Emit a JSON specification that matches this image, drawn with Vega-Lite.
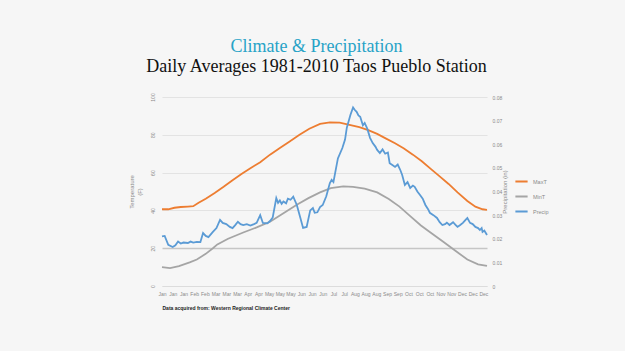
{
  "$schema": "https://vega.github.io/schema/vega-lite/v6.json",
  "width": 325,
  "height": 189,
  "autosize": {"type": "none"},
  "padding": {"left": 162, "top": 97, "right": 138, "bottom": 65},
  "background": "#f6f6f6",
  "title": {
    "text": "Climate & Precipitation",
    "subtitle": "Daily Averages 1981-2010 Taos Pueblo Station",
    "font": "Liberation Serif",
    "fontSize": 18,
    "fontWeight": "normal",
    "color": "#27a3c7",
    "subtitleFont": "Liberation Serif",
    "subtitleFontSize": 18,
    "subtitleColor": "#111111",
    "subtitlePadding": 2,
    "anchor": "middle",
    "offset": 17,
    "dx": -8
  },
  "config": {
    "view": {"stroke": null},
    "axis": {"labelFont": "Liberation Sans", "titleFont": "Liberation Sans", "labelColor": "#8a8a8a", "titleColor": "#8a8a8a", "titleFontWeight": "normal"},
    "legend": {"labelFont": "Liberation Sans"}
  },
  "datasets": {
    "temps": [
      {"day": 1, "series": "MaxT", "value": 40.6},
      {"day": 8, "series": "MaxT", "value": 40.6},
      {"day": 15, "series": "MaxT", "value": 41.4},
      {"day": 22, "series": "MaxT", "value": 41.8},
      {"day": 30, "series": "MaxT", "value": 42.0},
      {"day": 36, "series": "MaxT", "value": 42.2},
      {"day": 42, "series": "MaxT", "value": 44.0},
      {"day": 50, "series": "MaxT", "value": 46.2},
      {"day": 60, "series": "MaxT", "value": 49.2},
      {"day": 70, "series": "MaxT", "value": 52.5},
      {"day": 80, "series": "MaxT", "value": 56.0},
      {"day": 90, "series": "MaxT", "value": 59.3},
      {"day": 100, "series": "MaxT", "value": 62.3},
      {"day": 111, "series": "MaxT", "value": 65.5},
      {"day": 122, "series": "MaxT", "value": 69.5},
      {"day": 133, "series": "MaxT", "value": 73.0},
      {"day": 144, "series": "MaxT", "value": 76.5},
      {"day": 155, "series": "MaxT", "value": 80.0},
      {"day": 166, "series": "MaxT", "value": 83.2},
      {"day": 178, "series": "MaxT", "value": 85.8},
      {"day": 189, "series": "MaxT", "value": 86.6},
      {"day": 200, "series": "MaxT", "value": 86.4},
      {"day": 211, "series": "MaxT", "value": 85.3},
      {"day": 222, "series": "MaxT", "value": 84.0},
      {"day": 232, "series": "MaxT", "value": 82.5},
      {"day": 242, "series": "MaxT", "value": 80.5},
      {"day": 252, "series": "MaxT", "value": 78.0},
      {"day": 262, "series": "MaxT", "value": 75.5},
      {"day": 272, "series": "MaxT", "value": 72.8},
      {"day": 282, "series": "MaxT", "value": 69.5},
      {"day": 292, "series": "MaxT", "value": 66.0},
      {"day": 302, "series": "MaxT", "value": 62.0},
      {"day": 312, "series": "MaxT", "value": 58.0},
      {"day": 322, "series": "MaxT", "value": 54.0},
      {"day": 332, "series": "MaxT", "value": 49.5},
      {"day": 343, "series": "MaxT", "value": 45.0},
      {"day": 352, "series": "MaxT", "value": 42.0},
      {"day": 360, "series": "MaxT", "value": 40.6},
      {"day": 365, "series": "MaxT", "value": 40.3},
      {"day": 1, "series": "MinT", "value": 10.0},
      {"day": 10, "series": "MinT", "value": 9.5},
      {"day": 20, "series": "MinT", "value": 10.5},
      {"day": 32, "series": "MinT", "value": 12.5},
      {"day": 40, "series": "MinT", "value": 14.0},
      {"day": 50, "series": "MinT", "value": 17.0},
      {"day": 58, "series": "MinT", "value": 20.0},
      {"day": 63, "series": "MinT", "value": 22.0},
      {"day": 75, "series": "MinT", "value": 25.0},
      {"day": 92, "series": "MinT", "value": 28.3},
      {"day": 107, "series": "MinT", "value": 31.0},
      {"day": 122, "series": "MinT", "value": 34.0},
      {"day": 137, "series": "MinT", "value": 38.5},
      {"day": 152, "series": "MinT", "value": 43.0},
      {"day": 165, "series": "MinT", "value": 46.5},
      {"day": 178, "series": "MinT", "value": 49.5},
      {"day": 190, "series": "MinT", "value": 51.8},
      {"day": 204, "series": "MinT", "value": 52.7},
      {"day": 215, "series": "MinT", "value": 52.5},
      {"day": 228, "series": "MinT", "value": 51.5},
      {"day": 242, "series": "MinT", "value": 49.5},
      {"day": 255, "series": "MinT", "value": 46.0},
      {"day": 267, "series": "MinT", "value": 42.0},
      {"day": 279, "series": "MinT", "value": 37.0},
      {"day": 291, "series": "MinT", "value": 32.0},
      {"day": 304, "series": "MinT", "value": 27.5},
      {"day": 316, "series": "MinT", "value": 23.4},
      {"day": 330, "series": "MinT", "value": 18.5},
      {"day": 343, "series": "MinT", "value": 14.0},
      {"day": 355, "series": "MinT", "value": 11.5},
      {"day": 365, "series": "MinT", "value": 10.6}
    ],
    "precip": [
      {"day": 1, "series": "Precip", "value": 0.0210},
      {"day": 4, "series": "Precip", "value": 0.0212},
      {"day": 8, "series": "Precip", "value": 0.0174},
      {"day": 13, "series": "Precip", "value": 0.0165},
      {"day": 16, "series": "Precip", "value": 0.0172},
      {"day": 19, "series": "Precip", "value": 0.0188},
      {"day": 22, "series": "Precip", "value": 0.0180},
      {"day": 25, "series": "Precip", "value": 0.0184},
      {"day": 30, "series": "Precip", "value": 0.0182},
      {"day": 33, "series": "Precip", "value": 0.0188},
      {"day": 36, "series": "Precip", "value": 0.0184},
      {"day": 40, "series": "Precip", "value": 0.0187},
      {"day": 44, "series": "Precip", "value": 0.0186},
      {"day": 47, "series": "Precip", "value": 0.0224},
      {"day": 50, "series": "Precip", "value": 0.0212},
      {"day": 53, "series": "Precip", "value": 0.0207},
      {"day": 58, "series": "Precip", "value": 0.0229},
      {"day": 62, "series": "Precip", "value": 0.0245},
      {"day": 66, "series": "Precip", "value": 0.0280},
      {"day": 69, "series": "Precip", "value": 0.0267},
      {"day": 73, "series": "Precip", "value": 0.0262},
      {"day": 77, "series": "Precip", "value": 0.0250},
      {"day": 80, "series": "Precip", "value": 0.0245},
      {"day": 83, "series": "Precip", "value": 0.0258},
      {"day": 86, "series": "Precip", "value": 0.0272},
      {"day": 89, "series": "Precip", "value": 0.0262},
      {"day": 92, "series": "Precip", "value": 0.0258},
      {"day": 96, "series": "Precip", "value": 0.0262},
      {"day": 100, "series": "Precip", "value": 0.0256},
      {"day": 104, "series": "Precip", "value": 0.0262},
      {"day": 107, "series": "Precip", "value": 0.0267},
      {"day": 111, "series": "Precip", "value": 0.0300},
      {"day": 114, "series": "Precip", "value": 0.0267},
      {"day": 119, "series": "Precip", "value": 0.0265},
      {"day": 122, "series": "Precip", "value": 0.0275},
      {"day": 125, "series": "Precip", "value": 0.0290},
      {"day": 129, "series": "Precip", "value": 0.0372},
      {"day": 131, "series": "Precip", "value": 0.0352},
      {"day": 133, "series": "Precip", "value": 0.0362},
      {"day": 135, "series": "Precip", "value": 0.0348},
      {"day": 137, "series": "Precip", "value": 0.0358},
      {"day": 140, "series": "Precip", "value": 0.0350},
      {"day": 142, "series": "Precip", "value": 0.0370},
      {"day": 145, "series": "Precip", "value": 0.0365},
      {"day": 148, "series": "Precip", "value": 0.0378},
      {"day": 152, "series": "Precip", "value": 0.0343},
      {"day": 156, "series": "Precip", "value": 0.0288},
      {"day": 159, "series": "Precip", "value": 0.0246},
      {"day": 163, "series": "Precip", "value": 0.0250},
      {"day": 167, "series": "Precip", "value": 0.0320},
      {"day": 170, "series": "Precip", "value": 0.0330},
      {"day": 172, "series": "Precip", "value": 0.0310},
      {"day": 175, "series": "Precip", "value": 0.0312},
      {"day": 178, "series": "Precip", "value": 0.0334},
      {"day": 181, "series": "Precip", "value": 0.0343},
      {"day": 185, "series": "Precip", "value": 0.0380},
      {"day": 189, "series": "Precip", "value": 0.0436},
      {"day": 191, "series": "Precip", "value": 0.0449},
      {"day": 193, "series": "Precip", "value": 0.0440},
      {"day": 195, "series": "Precip", "value": 0.0480},
      {"day": 198, "series": "Precip", "value": 0.0540},
      {"day": 203, "series": "Precip", "value": 0.0584},
      {"day": 206, "series": "Precip", "value": 0.0620},
      {"day": 208, "series": "Precip", "value": 0.0670},
      {"day": 212, "series": "Precip", "value": 0.0724},
      {"day": 215, "series": "Precip", "value": 0.0756},
      {"day": 217, "series": "Precip", "value": 0.0745},
      {"day": 219, "series": "Precip", "value": 0.0737},
      {"day": 221, "series": "Precip", "value": 0.0722},
      {"day": 223, "series": "Precip", "value": 0.0716},
      {"day": 226, "series": "Precip", "value": 0.0680},
      {"day": 228, "series": "Precip", "value": 0.0690},
      {"day": 231, "series": "Precip", "value": 0.0665},
      {"day": 234, "series": "Precip", "value": 0.0627},
      {"day": 237, "series": "Precip", "value": 0.0605},
      {"day": 240, "series": "Precip", "value": 0.0590},
      {"day": 242, "series": "Precip", "value": 0.0576},
      {"day": 245, "series": "Precip", "value": 0.0563},
      {"day": 248, "series": "Precip", "value": 0.0578},
      {"day": 251, "series": "Precip", "value": 0.0560},
      {"day": 254, "series": "Precip", "value": 0.0565},
      {"day": 256, "series": "Precip", "value": 0.0520},
      {"day": 259, "series": "Precip", "value": 0.0512},
      {"day": 262, "series": "Precip", "value": 0.0504},
      {"day": 265, "series": "Precip", "value": 0.0514},
      {"day": 268, "series": "Precip", "value": 0.0490},
      {"day": 270, "series": "Precip", "value": 0.0470},
      {"day": 273, "series": "Precip", "value": 0.0428},
      {"day": 276, "series": "Precip", "value": 0.0440},
      {"day": 279, "series": "Precip", "value": 0.0415},
      {"day": 282, "series": "Precip", "value": 0.0425},
      {"day": 284, "series": "Precip", "value": 0.0420},
      {"day": 287, "series": "Precip", "value": 0.0400},
      {"day": 290, "series": "Precip", "value": 0.0385},
      {"day": 293, "series": "Precip", "value": 0.0370},
      {"day": 296, "series": "Precip", "value": 0.0343},
      {"day": 299, "series": "Precip", "value": 0.0325},
      {"day": 301, "series": "Precip", "value": 0.0310},
      {"day": 305, "series": "Precip", "value": 0.0300},
      {"day": 309, "series": "Precip", "value": 0.0288},
      {"day": 312, "series": "Precip", "value": 0.0270},
      {"day": 315, "series": "Precip", "value": 0.0258},
      {"day": 318, "series": "Precip", "value": 0.0262},
      {"day": 320, "series": "Precip", "value": 0.0268},
      {"day": 323, "series": "Precip", "value": 0.0258},
      {"day": 327, "series": "Precip", "value": 0.0270},
      {"day": 330, "series": "Precip", "value": 0.0258},
      {"day": 332, "series": "Precip", "value": 0.0250},
      {"day": 335, "series": "Precip", "value": 0.0258},
      {"day": 338, "series": "Precip", "value": 0.0267},
      {"day": 341, "series": "Precip", "value": 0.0280},
      {"day": 343, "series": "Precip", "value": 0.0288},
      {"day": 346, "series": "Precip", "value": 0.0267},
      {"day": 349, "series": "Precip", "value": 0.0262},
      {"day": 352, "series": "Precip", "value": 0.0250},
      {"day": 355, "series": "Precip", "value": 0.0245},
      {"day": 357, "series": "Precip", "value": 0.0237},
      {"day": 359, "series": "Precip", "value": 0.0245},
      {"day": 360, "series": "Precip", "value": 0.0229},
      {"day": 362, "series": "Precip", "value": 0.0235},
      {"day": 365, "series": "Precip", "value": 0.0216}
    ]
  },
  "encoding": {
    "x": {
      "field": "day", "type": "quantitative",
      "scale": {"domain": [1, 365], "nice": false, "zero": false},
      "axis": {
        "values": [1, 13, 25, 37, 49, 61, 73, 85, 97, 109, 121, 133, 145, 157, 169, 181, 193, 205, 217, 229, 241, 253, 265, 277, 289, 301, 313, 325, 337, 349, 361],
        "labelExpr": "timeFormat(datetime(2001, 0, datum.value), '%b')",
        "labelFontSize": 5, "labelAngle": 0, "labelOverlap": false, "labelFlush": false, "labelPadding": 5,
        "ticks": false, "grid": false, "domainColor": "#dcdcdc",
        "title": "Data acquired from: Western Regional Climate Center",
        "titleAnchor": "start", "titleFontSize": 5, "titleFontWeight": "bold", "titleColor": "#222222", "titlePadding": 9
      }
    },
    "color": {
      "field": "series", "type": "nominal",
      "scale": {"domain": ["MaxT", "MinT", "Precip"], "range": ["#ED7D31", "#A5A5A5", "#5B9BD5"]},
      "legend": {
        "title": null, "orient": "none", "legendX": 352, "legendY": 77,
        "symbolType": "stroke", "symbolSize": 150, "symbolStrokeWidth": 2,
        "labelFontSize": 5.5, "labelColor": "#8a8a8a", "rowPadding": 3
      }
    }
  },
  "layer": [
    {
      "data": {"name": "temps"},
      "mark": {"type": "line", "strokeWidth": 1.8},
      "encoding": {
        "y": {
          "field": "value", "type": "quantitative",
          "scale": {"domain": [0, 100], "nice": false},
          "axis": {
            "values": [0, 20, 40, 60, 80, 100],
            "labelFontSize": 5, "labelAngle": -90, "labelPadding": 7,
            "ticks": false, "domain": false,
            "grid": true,
            "gridColor": {"condition": {"test": "datum.value === 20", "value": "#c6c6c6"}, "value": "#e3e3e3"},
            "gridWidth": {"condition": {"test": "datum.value === 20", "value": 1.6}, "value": 1},
            "title": ["Temperature", "(F)"], "titleFontSize": 6, "titlePadding": 8
          }
        }
      }
    },
    {
      "data": {"name": "precip"},
      "mark": {"type": "line", "strokeWidth": 1.8},
      "encoding": {
        "y": {
          "field": "value", "type": "quantitative",
          "scale": {"domain": [0, 0.08], "nice": false},
          "axis": {
            "orient": "right",
            "values": [0, 0.01, 0.02, 0.03, 0.04, 0.05, 0.06, 0.07, 0.08],
            "labelExpr": "datum.value === 0 ? '0' : format(datum.value, '.2f')",
            "labelFontSize": 5, "labelPadding": 5,
            "ticks": false, "domain": false, "grid": false,
            "title": "Precipitation (in)", "titleFontSize": 6, "titlePadding": 6, "titleAngle": 270
          }
        }
      }
    }
  ],
  "resolve": {"scale": {"y": "independent"}}
}
